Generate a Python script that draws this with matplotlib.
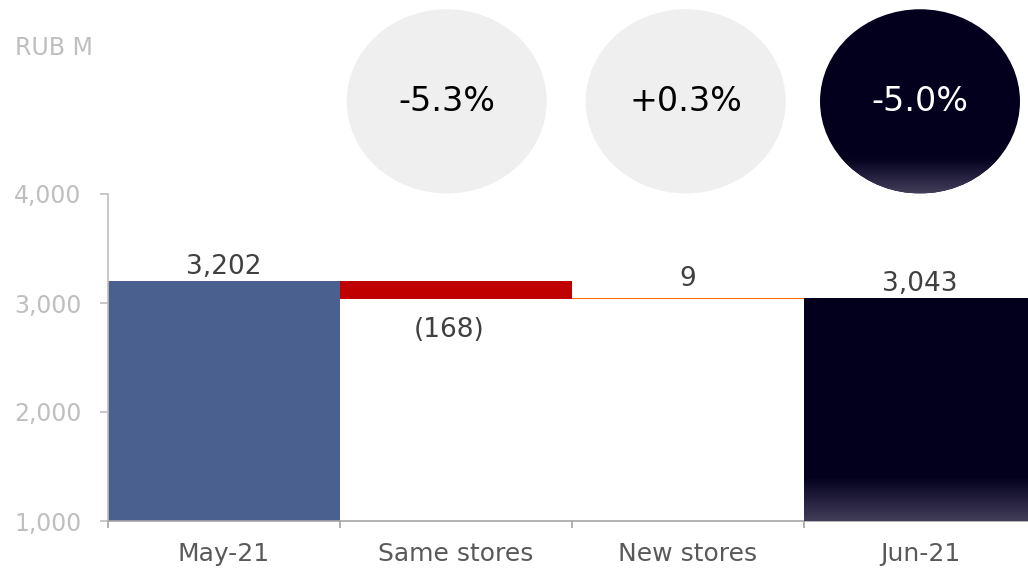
import matplotlib.pyplot as plt
import numpy as np
from matplotlib.patches import Ellipse
from matplotlib.colors import to_rgb

categories = ['May-21', 'Same stores', 'New stores', 'Jun-21']
start_value = 3202
changes = [-168, 9]
end_value = 3043
value_labels = ['3,202', '(168)', '9', '3,043']
pct_labels = ['-5.3%', '+0.3%', '-5.0%']
yticks = [1000, 2000, 3000, 4000]

BLUE = '#4a6190'
RED = '#c00000'
ORANGE = '#ff6a00'
NAVY = '#03001e'
NAVY_LIGHT = '#423e5a'
GRAY_TXT = '#bfbfbf'

fig = plt.figure(figsize=(10.28, 5.69), dpi=100)
ax = fig.add_axes([108 / 1028, 48 / 569, 928 / 1028, 327 / 569])

base = 1000
# start bar
ax.bar(0, start_value - base, bottom=base, width=1.0, color=BLUE, zorder=2)
# change bars
running = start_value
for i, ch in enumerate(changes):
    col = RED if ch < 0 else ORANGE
    lo = min(running, running + ch)
    ax.bar(i + 1, abs(ch), bottom=lo, width=1.0, color=col, zorder=2)
    running += ch

# gradient: row 0 light (bottom), last row dark (top)
n = 64
grad = np.zeros((n, 1, 3))
c0, c1 = np.array(to_rgb(NAVY)), np.array(to_rgb(NAVY_LIGHT))
for k in range(n):
    t = k / (n - 1)
    grad[k, 0] = c1 * (1 - t) + c0 * t

# end bar with gradient at bottom
ax.bar(3, end_value - base, bottom=base, width=1.0, color=NAVY, zorder=2)
ax.imshow(grad, extent=[2.5, 3.5, base, base + 400], origin='lower',
          aspect='auto', zorder=3, interpolation='bilinear')

# value labels
ax.text(0, start_value + 10, value_labels[0], ha='center', va='bottom', fontsize=19, color='#404040')
ax.text(0.97, start_value + changes[0] - 160, value_labels[1], ha='center', va='top', fontsize=19, color='#404040')
ax.text(2, end_value + 60, value_labels[2], ha='center', va='bottom', fontsize=19, color='#404040')
ax.text(3, end_value + 10, value_labels[3], ha='center', va='bottom', fontsize=19, color='#404040')

# percentage bubbles above the bars
bubble_x = [0.96, 1.99, 3.0]
bubble_y = 4850
bw, bh = 0.862, 1690
for j, (bx, lab) in enumerate(zip(bubble_x, pct_labels)):
    dark = j == 2
    e = Ellipse((bx, bubble_y), bw, bh, facecolor=NAVY if dark else '#efefef',
                edgecolor='none', clip_on=False, zorder=2)
    ax.add_patch(e)
    if dark:
        img = ax.imshow(grad, extent=[bx - bw / 2, bx + bw / 2, bubble_y - bh / 2, bubble_y - bh / 2 + 320],
                        origin='lower', aspect='auto', zorder=3, interpolation='bilinear')
        img.set_clip_box(fig.bbox)
        img.set_clip_path(e)
    ax.text(bx, bubble_y, lab, ha='center', va='center', fontsize=24,
            color='white' if dark else 'black', zorder=4, clip_on=False)

ax.set_xlim(-0.5, 3.5)
ax.set_ylim(1000, 4000)

for s in ['top', 'right']:
    ax.spines[s].set_visible(False)
ax.spines['left'].set_color(GRAY_TXT)
ax.spines['bottom'].set_color('#a6a6a6')
ax.spines['left'].set_linewidth(1.2)
ax.spines['bottom'].set_linewidth(1.2)

ax.set_yticks(yticks)
ax.set_yticklabels([f'{v:,}' for v in yticks])
ax.tick_params(axis='y', colors=GRAY_TXT, labelsize=17, length=6, pad=13, width=1.2)

ax.set_xticks(range(len(categories)))
ax.set_xticklabels(categories)
ax.set_xticks([-0.5, 0.5, 1.5, 2.5], minor=True)
ax.tick_params(axis='x', which='major', length=0, pad=15, labelsize=18, labelcolor='#595959')
ax.tick_params(axis='x', which='minor', length=5, width=1.2, color='#a6a6a6')

fig.text(15 / 1028, 1 - 48 / 569, 'RUB M', ha='left', va='center', fontsize=17, color=GRAY_TXT)

plt.savefig('out.png', dpi=100)
plt.close()
